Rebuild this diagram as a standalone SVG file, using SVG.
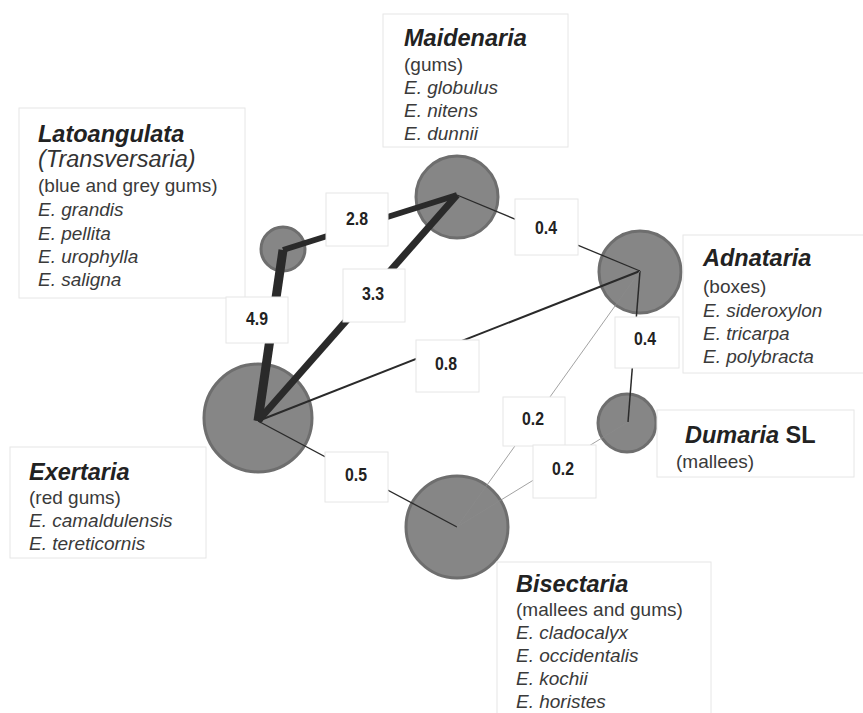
<svg xmlns="http://www.w3.org/2000/svg" width="863" height="713" viewBox="0 0 863 713">
<style>
.bg{fill:#ffffff}
.dot{fill:#868686;stroke:#6e6e6e;stroke-width:3}
.box{fill:#ffffff;stroke:#e6e6e6;stroke-width:1}
.t{font-family:"Liberation Sans",Arial,sans-serif;font-size:23.5px;font-weight:bold;font-style:italic;fill:#222222}
.b{font-family:"Liberation Sans",Arial,sans-serif;font-size:19px;fill:#3a3a3a}
.i{font-style:italic}
.e{stroke:#2a2a2a;fill:none;stroke-linecap:butt}
.lb{fill:#ffffff;stroke:#e6e6e6;stroke-width:1}
.n{font-family:"Liberation Sans Narrow","Liberation Sans",Arial,sans-serif;font-size:19px;font-weight:bold;fill:#222222;text-anchor:middle}
</style>
<rect class="bg" x="0" y="0" width="863" height="713"/>

<g id="node-latoangulata">
<circle class="dot" cx="283" cy="249" r="22"/>
<rect class="box" x="19" y="108" width="226" height="190"/>
<text class="t" x="38" y="142">Latoangulata</text>
<text class="b i" x="38" y="167" style="font-size:23.5px;fill:#333">(Transversaria)</text>
<text class="b" x="38" y="192">(blue and grey gums)</text>
<text class="b i" x="38" y="216">E. grandis</text>
<text class="b i" x="38" y="240">E. pellita</text>
<text class="b i" x="38" y="263">E. urophylla</text>
<text class="b i" x="38" y="286">E. saligna</text>
</g>

<g id="node-maidenaria">
<circle class="dot" cx="457" cy="197" r="41"/>
<rect class="box" x="383" y="14" width="185" height="133"/>
<text class="t" x="404" y="46">Maidenaria</text>
<text class="b" x="404" y="71">(gums)</text>
<text class="b i" x="404" y="94">E. globulus</text>
<text class="b i" x="404" y="117">E. nitens</text>
<text class="b i" x="404" y="140">E. dunnii</text>
</g>

<g id="node-adnataria">
<circle class="dot" cx="640" cy="272" r="41"/>
<rect class="box" x="683" y="235" width="182" height="138"/>
<text class="t" x="703" y="266">Adnataria</text>
<text class="b" x="703" y="293">(boxes)</text>
<text class="b i" x="703" y="317">E. sideroxylon</text>
<text class="b i" x="703" y="340">E. tricarpa</text>
<text class="b i" x="703" y="363">E. polybracta</text>
</g>

<g id="node-dumaria">
<circle class="dot" cx="627" cy="423" r="29"/>
<rect class="box" x="657" y="410" width="197" height="67"/>
<text class="t" x="685" y="443">Dumaria<tspan style="font-style:normal"> SL</tspan></text>
<text class="b" x="676" y="468">(mallees)</text>
</g>

<g id="node-exertaria">
<circle class="dot" cx="258" cy="418" r="54"/>
<rect class="box" x="10" y="447" width="196" height="111"/>
<text class="t" x="29" y="480">Exertaria</text>
<text class="b" x="29" y="504">(red gums)</text>
<text class="b i" x="29" y="527">E. camaldulensis</text>
<text class="b i" x="29" y="550">E. tereticornis</text>
</g>

<g id="node-bisectaria">
<circle class="dot" cx="457" cy="527" r="51"/>
<rect class="box" x="497" y="562" width="214" height="160"/>
<text class="t" x="516" y="592">Bisectaria</text>
<text class="b" x="516" y="616">(mallees and gums)</text>
<text class="b i" x="516" y="639">E. cladocalyx</text>
<text class="b i" x="516" y="662">E. occidentalis</text>
<text class="b i" x="516" y="685">E. kochii</text>
<text class="b i" x="516" y="708">E. horistes</text>
</g>

<g id="connectors">
<line class="e" x1="258" y1="421" x2="283" y2="250" stroke-width="9"/>
<line class="e" x1="283" y1="250" x2="457" y2="195" stroke-width="6"/>
<line class="e" x1="258" y1="421" x2="457" y2="195" stroke-width="7"/>
<line class="e" x1="258" y1="421" x2="640" y2="271" stroke-width="2"/>
<line class="e" x1="457" y1="195" x2="640" y2="271" stroke-width="1.3"/>
<line class="e" x1="640" y1="271" x2="628" y2="422" stroke-width="1.5"/>
<line class="e" x1="258" y1="421" x2="457" y2="527" stroke-width="1.3"/>
<line class="e" x1="457" y1="527" x2="640" y2="271" stroke-width="0.8" style="stroke:#8a8a8a"/>
<line class="e" x1="457" y1="527" x2="628" y2="422" stroke-width="0.8" style="stroke:#8a8a8a"/>

<rect class="lb" x="326" y="193" width="62" height="53"/>
<text class="n" x="357" y="225" textLength="22" lengthAdjust="spacingAndGlyphs">2.8</text>
<rect class="lb" x="343" y="269" width="62" height="53"/>
<text class="n" x="373" y="300" textLength="22" lengthAdjust="spacingAndGlyphs">3.3</text>
<rect class="lb" x="226" y="297" width="62" height="46"/>
<text class="n" x="257" y="325" textLength="22" lengthAdjust="spacingAndGlyphs">4.9</text>
<rect class="lb" x="416" y="340" width="63" height="52"/>
<text class="n" x="446" y="370" textLength="22" lengthAdjust="spacingAndGlyphs">0.8</text>
<rect class="lb" x="515" y="199" width="63" height="56"/>
<text class="n" x="546" y="234" textLength="22" lengthAdjust="spacingAndGlyphs">0.4</text>
<rect class="lb" x="615" y="317" width="64" height="51"/>
<text class="n" x="645" y="345" textLength="22" lengthAdjust="spacingAndGlyphs">0.4</text>
<rect class="lb" x="503" y="397" width="62" height="49"/>
<text class="n" x="533" y="425" textLength="22" lengthAdjust="spacingAndGlyphs">0.2</text>
<rect class="lb" x="533" y="445" width="63" height="53"/>
<text class="n" x="563" y="475" textLength="22" lengthAdjust="spacingAndGlyphs">0.2</text>
<rect class="lb" x="325" y="452" width="63" height="50"/>
<text class="n" x="356" y="481" textLength="22" lengthAdjust="spacingAndGlyphs">0.5</text>
</g>
</svg>
